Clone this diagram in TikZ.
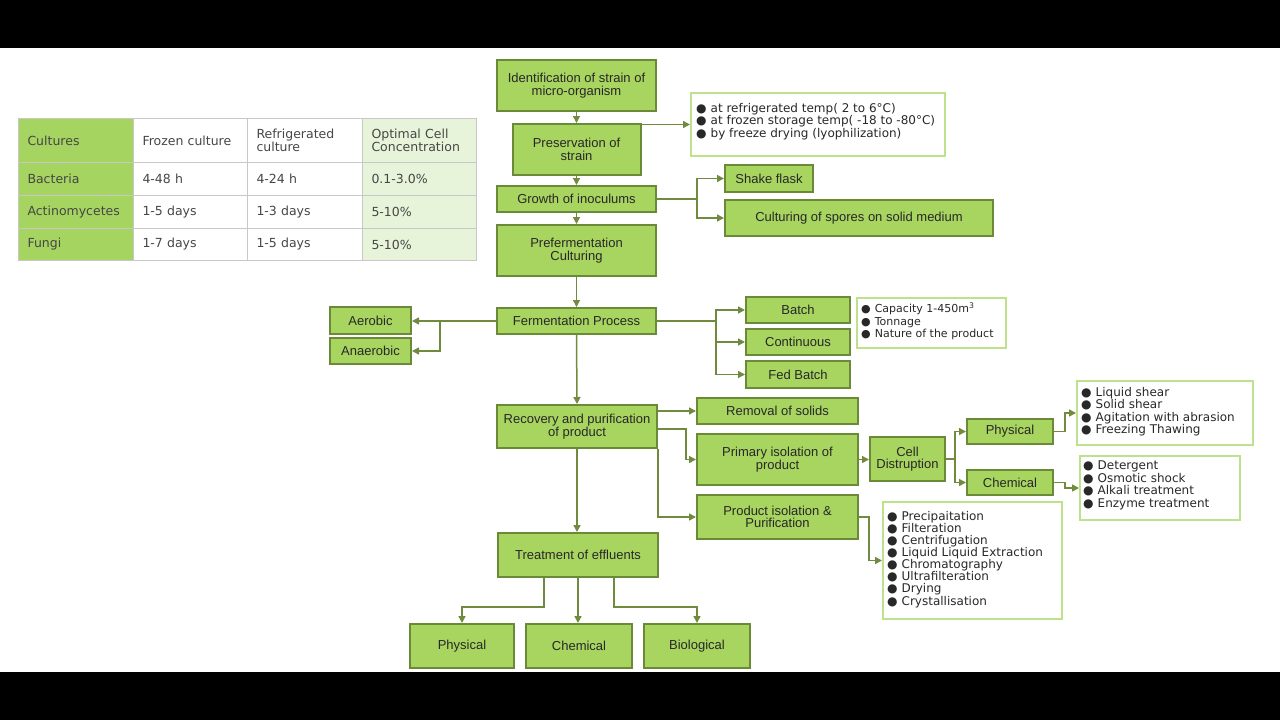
\documentclass[tikz,border=0pt]{standalone}
\usepackage{fontspec}
\setmainfont{Liberation Sans}
\newfontfamily\dv{DejaVu Sans}
\usetikzlibrary{arrows.meta}
\definecolor{boxfill}{RGB}{168,212,96}
\definecolor{boxedge}{RGB}{106,138,56}
\definecolor{conncol}{RGB}{112,138,62}
\definecolor{listedge}{RGB}{190,226,140}
\definecolor{tgreen}{RGB}{166,212,96}
\definecolor{tlight}{RGB}{232,244,218}
\definecolor{tgray}{RGB}{200,200,200}
\definecolor{txt}{RGB}{40,40,40}
\definecolor{ttxt}{RGB}{70,70,70}
\newcommand\bul{●\hspace{4pt}}
\tikzset{
  box/.style={draw=boxedge, fill=boxfill, line width=2pt, inner sep=0pt, align=center, text=txt,
    font=\fontsize{13}{12.5}\selectfont},
  lbox/.style={draw=listedge, fill=white, line width=2pt, inner sep=0pt},
  ltext/.style={anchor=north west, inner sep=0pt, align=left, text=txt, font=\dv\fontsize{12}{12.4}\selectfont},
  conn/.style={draw=conncol, line width=1.5pt},
  arr/.style={conn, -{Triangle[length=7pt,width=7pt]}},
  tc/.style={draw=tgray, line width=1pt, anchor=north west, inner xsep=9pt, inner ysep=0pt, align=left,
    text=ttxt, font=\dv\fontsize{12.5}{12}\selectfont, text width=#1},
}
\begin{document}
\begin{tikzpicture}[x=1pt,y=-1pt]
\useasboundingbox (0,0) rectangle (1280,720);
\fill[white] (0,0) rectangle (1280,720);
\fill[black] (0,0) rectangle (1280,48);
\fill[black] (0,672) rectangle (1280,720);

% ---------- table ----------
\node[tc=97pt, fill=tgreen, minimum height=44pt] (t11) at (18,118) {Cultures};
\node[tc=96pt, fill=white,  minimum height=44pt] (t12) at (133,118) {Frozen culture};
\node[tc=97pt, fill=white,  minimum height=44pt] (t13) at (247,118) {Refrigerated\\culture};
\node[tc=96pt, fill=tlight, minimum height=44pt] (t14) at (362,118) {Optimal Cell\\Concentration};
\node[tc=97pt, fill=tgreen, minimum height=33pt] (t21) at (18,162) {Bacteria};
\node[tc=96pt, fill=white,  minimum height=33pt] (t22) at (133,162) {4-48 h};
\node[tc=97pt, fill=white,  minimum height=33pt] (t23) at (247,162) {4-24 h};
\node[tc=96pt, fill=tlight, minimum height=33pt] (t24) at (362,162) {0.1-3.0\%};
\node[tc=97pt, fill=tgreen, minimum height=33pt] (t31) at (18,195) {Actinomycetes};
\node[tc=96pt, fill=white,  minimum height=33pt] (t32) at (133,195) {1-5 days};
\node[tc=97pt, fill=white,  minimum height=33pt] (t33) at (247,195) {1-3 days};
\node[tc=96pt, fill=tlight, minimum height=33pt] (t34) at (362,195) {5-10\%};
\node[tc=97pt, fill=tgreen, minimum height=32pt] (t41) at (18,228) {Fungi};
\node[tc=96pt, fill=white,  minimum height=32pt] (t42) at (133,228) {1-7 days};
\node[tc=97pt, fill=white,  minimum height=32pt] (t43) at (247,228) {1-5 days};
\node[tc=96pt, fill=tlight, minimum height=32pt] (t44) at (362,228) {5-10\%};

% ---------- main column ----------
\node[box, minimum width=159pt, minimum height=51pt] (ident) at (576.5,85.5) {Identification of strain of\\micro-organism};
\node[box, minimum width=128pt, minimum height=51pt] (pres) at (576.5,149.5) {Preservation of\\strain};
\node[box, minimum width=159pt, minimum height=26pt] (grow) at (576.5,199) {Growth of inoculums};
\node[box, minimum width=159pt, minimum height=51pt] (pref) at (576.5,250.5) {Prefermentation\\Culturing};
\node[box, minimum width=159pt, minimum height=26pt] (ferm) at (576.5,321) {Fermentation Process};
\node[box, minimum width=160pt, minimum height=43pt] (rec) at (577,426.5) {Recovery and purification\\of product};
\node[box, minimum width=160pt, minimum height=44pt] (treat) at (578,555) {Treatment of effluents};

% preservation list
\node[lbox, minimum width=254pt, minimum height=63pt] (preslist) at (818,124.5) {};
\node[ltext] (preslistt) at ([xshift=6pt,yshift=-11pt]preslist.north west)
  {\bul at refrigerated temp( 2 to 6°C)\\\bul at frozen storage temp( -18 to -80°C)\\\bul by freeze drying (lyophilization)};

% growth branches
\node[box, minimum width=88pt, minimum height=27pt] (shake) at (769,178.5) {Shake flask};
\node[box, minimum width=268pt, minimum height=36pt] (cult) at (859,218) {Culturing of spores on solid medium};

% fermentation branches
\node[box, minimum width=81pt, minimum height=27pt] (aer) at (370.5,320.5) {Aerobic};
\node[box, minimum width=81pt, minimum height=26pt] (anaer) at (370.5,351) {Anaerobic};
\node[box, minimum width=104pt, minimum height=26pt] (batch) at (798,310) {Batch};
\node[box, minimum width=104pt, minimum height=26pt] (cont) at (798,342) {Continuous};
\node[box, minimum width=104pt, minimum height=27pt] (fed) at (798,374.5) {Fed Batch};
\node[lbox, minimum width=149pt, minimum height=50pt] (caplist) at (931.5,323) {};
\node[ltext, font=\dv\fontsize{11}{12.5}\selectfont] (caplistt) at ([xshift=5pt,yshift=-6pt]caplist.north west)
  {\bul Capacity 1-450m\textsuperscript{3}\\\bul Tonnage\\\bul Nature of the product};

% recovery branches
\node[box, minimum width=161pt, minimum height=26pt] (rem) at (777.5,411) {Removal of solids};
\node[box, minimum width=161pt, minimum height=51pt] (prim) at (777.5,459.5) {Primary isolation of\\product};
\node[box, minimum width=161pt, minimum height=44pt] (prod) at (777.5,517) {Product isolation \&\\Purification};
\node[box, minimum width=75pt, minimum height=44pt] (cell) at (907.5,459) {Cell\\Distruption};
\node[box, minimum width=86pt, minimum height=25pt] (phys2) at (1010,431.5) {Physical};
\node[box, minimum width=86pt, minimum height=25pt] (chem2) at (1010,482.5) {Chemical};
\node[lbox, minimum width=176pt, minimum height=64pt] (physlist) at (1165,413) {};
\node[ltext] (physlistt) at ([xshift=5pt,yshift=-7pt]physlist.north west)
  {\bul Liquid shear\\\bul Solid shear\\\bul Agitation with abrasion\\\bul Freezing Thawing};
\node[lbox, minimum width=160pt, minimum height=64pt] (chemlist) at (1160,488) {};
\node[ltext] (chemlistt) at ([xshift=4pt,yshift=-6pt]chemlist.north west)
  {\bul Detergent\\\bul Osmotic shock\\\bul Alkali treatment\\\bul Enzyme treatment};
\node[lbox, minimum width=179pt, minimum height=117pt] (prodlist) at (972.5,560.5) {};
\node[ltext, font=\dv\fontsize{12}{12.1}\selectfont] (prodlistt) at ([xshift=5pt,yshift=-10pt]prodlist.north west)
  {\bul Precipaitation\\\bul Filteration\\\bul Centrifugation\\\bul Liquid Liquid Extraction\\\bul Chromatography\\\bul Ultrafilteration\\\bul Drying\\\bul Crystallisation};

% effluent branches
\node[box, minimum width=104pt, minimum height=44pt] (phys) at (462,646) {Physical};
\node[box, minimum width=106pt, minimum height=44pt] (chem) at (579,646) {Chemical};
\node[box, minimum width=106pt, minimum height=44pt] (bio) at (697,646) {Biological};

% ---------- connectors ----------
\draw[arr] (ident.south) -- (pres.north);
\draw[arr] (pres.south) -- (grow.north);
\draw[arr] (grow.south) -- (pref.north);
\draw[arr] (pref.south) -- (ferm.north);
\draw[arr] (ferm.south) -- (rec.north);
\draw[arr] (rec.south) -- (rec.south |- treat.north);

\draw[arr] (pres.east |- preslist.west) -- (preslist.west);

\coordinate (gb) at (697,199);
\draw[conn] (grow.east) -- (gb);
\draw[arr] (gb) |- (shake.west);
\draw[arr] (gb) |- (cult.west);

\coordinate (fl) at (440,321);
\draw[arr] (ferm.west) -- (ferm.west -| aer.east);
\draw[arr] (fl) |- (anaer.east);

\coordinate (fr) at (716,321);
\draw[conn] (ferm.east) -- (fr);
\draw[arr] (fr) |- (batch.west);
\draw[arr] (fr) |- (cont.west);
\draw[arr] (fr) |- (fed.west);

\draw[arr] (rec.east |- rem.west) -- (rem.west);
\coordinate (rp) at (686,429);
\draw[arr] (rec.east |- rp) -- (rp) |- (prim.west);
\draw[arr] (rec.south east) |- (prod.west);

\draw[arr] (prim.east) -- (prim.east -| cell.west);
\coordinate (cb) at (955,459);
\draw[conn] (cell.east) -- (cb);
\draw[arr] (cb) |- (phys2.west);
\draw[arr] (cb) |- (chem2.west);
\draw[arr] (phys2.east) -- ++(11,0) |- (physlist.west);
\draw[arr] (chem2.east) -- ++(11,0) |- (chemlist.west);
\draw[arr] (prod.east) -- ++(10,0) |- (prodlist.west);

\draw[arr] ([xshift=-34pt]treat.south) -- ++(0,29) -| (phys.north);
\draw[arr] (treat.south) -- (treat.south |- chem.north);
\draw[arr] ([xshift=36pt]treat.south) -- ++(0,29) -| (bio.north);
\end{tikzpicture}
\end{document}
